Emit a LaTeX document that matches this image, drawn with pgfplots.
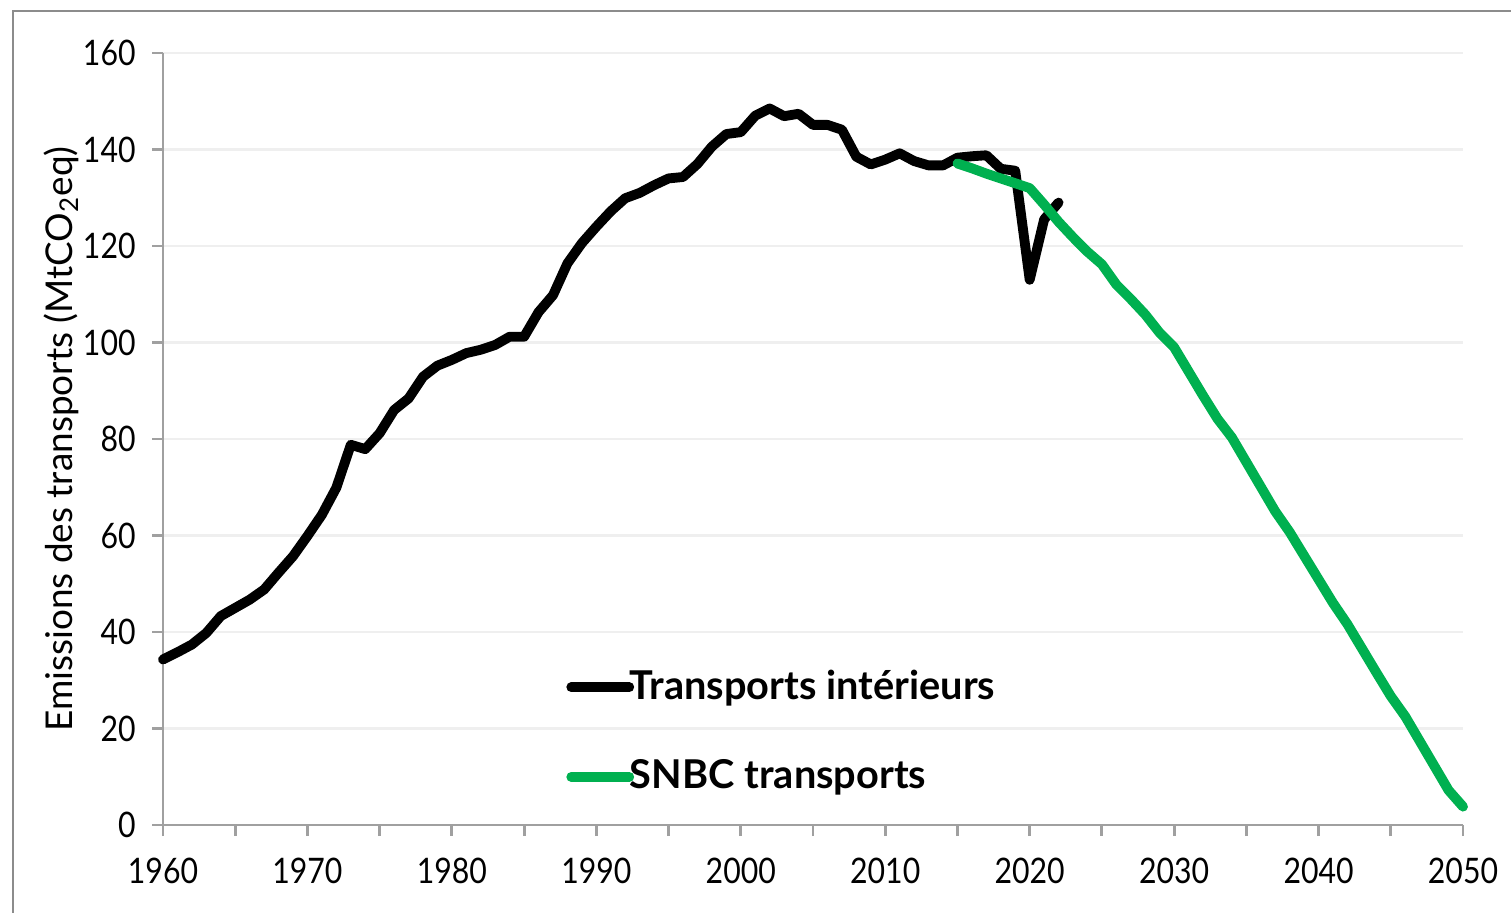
\documentclass[border=0pt]{standalone}
\usepackage{fontspec}
\setmainfont{Lato}
\newfontfamily\tickfont[FakeStretch=0.86]{Lato}
\usepackage{pgfplots}
\pgfplotsset{compat=1.18}
\definecolor{snbc}{HTML}{00B050}
\definecolor{axgray}{HTML}{A0A0A0}
\definecolor{gridgray}{HTML}{EFEFEF}
\definecolor{framegray}{HTML}{8C8C8C}
\begin{document}
\begin{tikzpicture}[x=1cm,y=1cm]
\useasboundingbox (0,0) rectangle (15.11,9.13);
\draw[framegray, line width=0.7pt] (0.13,-0.5) -- (0.13,9.02) -- (15.6,9.02);
\begin{axis}[
  at={(1.63cm,0.88cm)}, anchor=origin,
  scale only axis, width=13cm, height=7.72cm,
  xmin=1960, xmax=2050, ymin=0, ymax=160,
  axis lines=left, axis line style={axgray, line width=0.8pt, -},
  xtick={1960,1970,...,2050}, minor xtick={1965,1975,...,2045},
  ytick={0,20,...,160},
  tick align=outside, tick style={axgray, line width=0.8pt},
  major tick length=1.1mm, minor tick length=1.1mm,
  ymajorgrids, grid style={gridgray, line width=0.8pt},
  /pgf/number format/assume math mode=true,
  /pgf/number format/1000 sep={},
  tick label style={font=\tickfont\fontsize{10}{12}\selectfont, black},
  xticklabel style={yshift=-1.0mm},
  yticklabel style={xshift=-0.4mm},
  ylabel={Emissions des transports (MtCO\textsubscript{2}eq)},
  ylabel style={font=\fontsize{10.5}{12}\selectfont, at={(axis description cs:-0.078,0.5)}, anchor=center},
  clip=false,
  legend style={at={(axis description cs:0.297,0.22)}, anchor=north west, draw=none, fill=none,
    font=\bfseries\fontsize{11.3}{13}\selectfont, row sep=4.1mm,
    nodes={inner xsep=0.5pt}},
  legend cell align=left,
  legend image code/.code={\draw[#1, line cap=round, overlay] (0.06cm,0cm) -- (0.64cm,0cm); \path (0cm,0cm) (0.58cm,0cm);},
]
\addplot[black, line width=2.8pt, line join=round, line cap=round] coordinates {
(1960,34.3) (1961,35.8) (1962,37.4) (1963,39.8) (1964,43.3) (1965,45.0) (1966,46.7)
(1967,48.8) (1968,52.3) (1969,55.7) (1970,59.9) (1971,64.3) (1972,69.9) (1973,78.8)
(1974,77.9) (1975,81.2) (1976,86.0) (1977,88.4) (1978,92.9) (1979,95.2) (1980,96.4)
(1981,97.8) (1982,98.5) (1983,99.5) (1984,101.2) (1985,101.2) (1986,106.3) (1987,109.8)
(1988,116.4) (1989,120.6) (1990,124.0) (1991,127.2) (1992,129.9) (1993,131.0) (1994,132.6)
(1995,134.0) (1996,134.3) (1997,137.0) (1998,140.6) (1999,143.2) (2000,143.6) (2001,147.0)
(2002,148.5) (2003,146.9) (2004,147.4) (2005,145.1) (2006,145.1) (2007,144.1) (2008,138.5)
(2009,136.9) (2010,137.9) (2011,139.2) (2012,137.6) (2013,136.7) (2014,136.7) (2015,138.3)
(2016,138.6) (2017,138.8) (2018,136.0) (2019,135.6) (2020,113.0) (2021,125.5) (2022,129.0)
};
\addlegendentry{Transports intérieurs}
\addplot[snbc, line width=2.8pt, line join=round, line cap=round] coordinates {
(2015,137.1) (2016,136.1) (2017,135.0) (2018,134.0) (2019,133.0) (2020,132.0) (2021,128.6)
(2022,125.0) (2023,121.8) (2024,118.8) (2025,116.2) (2026,112.0) (2027,109.0) (2028,105.8)
(2029,102.0) (2030,99.0) (2031,94.0) (2032,89.0) (2033,84.2) (2034,80.3) (2035,75.2)
(2036,70.1) (2037,65.0) (2038,60.7) (2039,55.8) (2040,50.9) (2041,46.0) (2042,41.6)
(2043,36.6) (2044,31.6) (2045,26.7) (2046,22.5) (2047,17.4) (2048,12.3) (2049,7.2) (2050,3.8)
};
\addlegendentry{SNBC transports}
\end{axis}
\end{tikzpicture}
\end{document}
